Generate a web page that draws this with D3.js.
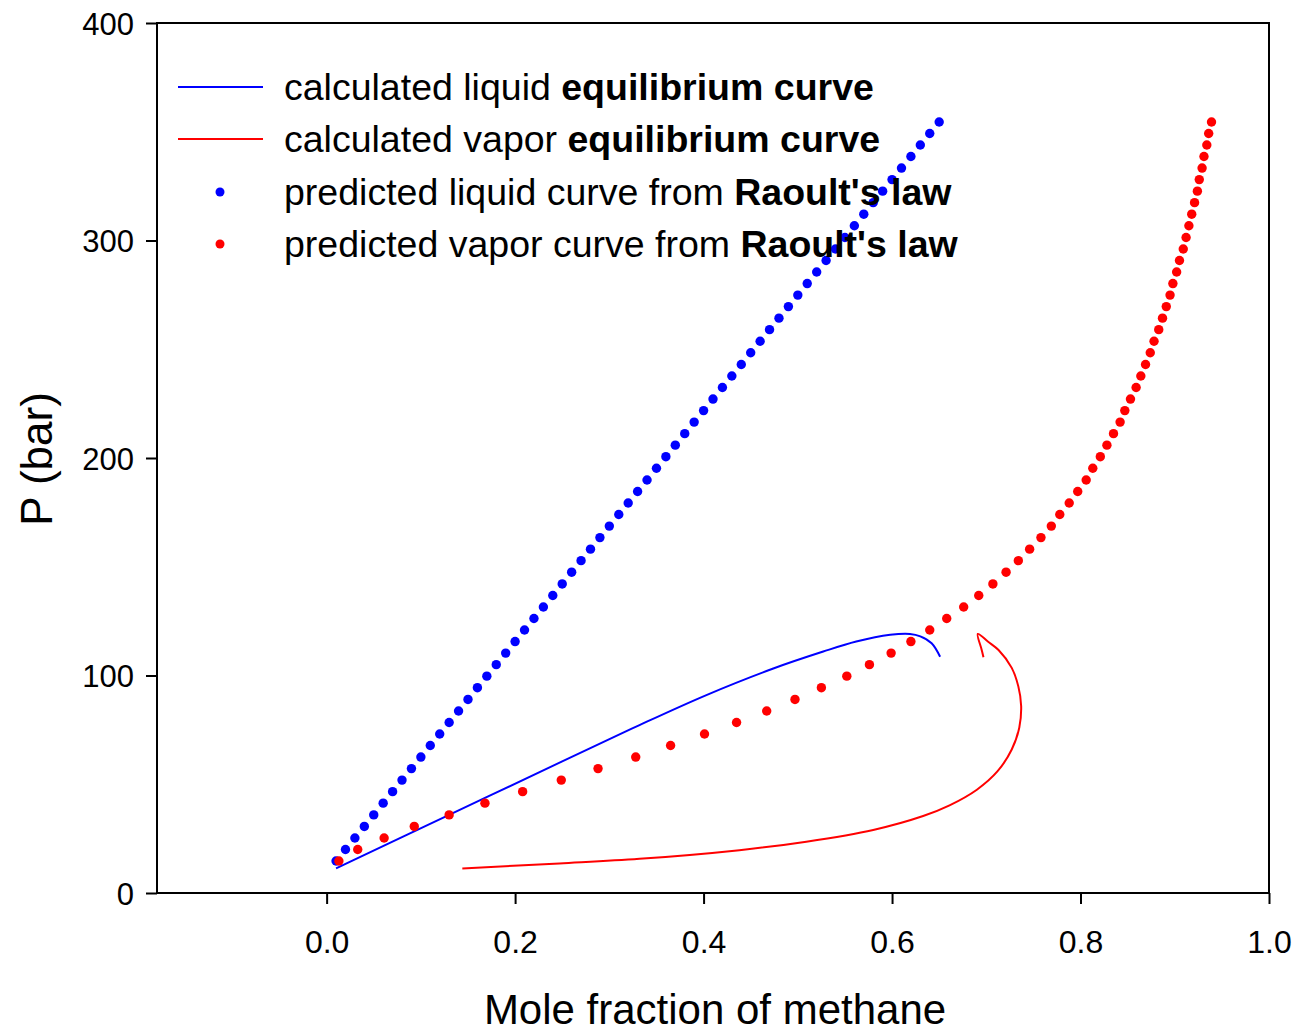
<!DOCTYPE html>
<html>
<head>
<meta charset="utf-8">
<script src="https://cdn.jsdelivr.net/npm/d3@7"></script>
<style>
  body { margin: 0; background: #fff; }
  text { font-family: "Liberation Sans", Arial, sans-serif; }
</style>
</head>
<body>
<script>
// pressures shared by both Raoult series (bar)
const raoultP = [14.7, 20.0, 25.3, 30.6, 35.9, 41.3, 46.6, 51.9, 57.2, 62.5, 67.8, 73.1, 78.4,
  83.7, 89.0, 94.4, 99.7, 105.0, 110.3, 115.6, 120.9, 126.2, 131.5, 136.8, 142.1, 147.5,
  152.8, 158.1, 163.4, 168.7, 174.0, 179.3, 184.6, 189.9, 195.3, 200.6, 205.9, 211.2,
  216.5, 221.8, 227.1, 232.4, 237.7, 243.0, 248.4, 253.7, 259.0, 264.3, 269.6, 274.9,
  280.2, 285.5, 290.8, 296.1, 301.4, 306.8, 312.1, 317.4, 322.7, 328.0, 333.3, 338.6,
  343.9, 349.2, 354.5];

// liquid mole fraction for Raoult dots
const raoultLiquidX = [0.01, 0.02, 0.03, 0.04, 0.05, 0.06, 0.07, 0.08, 0.09, 0.10, 0.11, 0.12,
  0.13, 0.14, 0.15, 0.16, 0.17, 0.18, 0.19, 0.20, 0.21, 0.22, 0.23, 0.24, 0.25, 0.26, 0.27,
  0.28, 0.29, 0.30, 0.31, 0.32, 0.33, 0.34, 0.35, 0.36, 0.37, 0.38, 0.39, 0.40, 0.41, 0.42,
  0.43, 0.44, 0.45, 0.46, 0.47, 0.48, 0.49, 0.50, 0.51, 0.52, 0.53, 0.54, 0.55, 0.56, 0.57,
  0.58, 0.59, 0.60, 0.61, 0.62, 0.63, 0.64, 0.65];

// vapor mole fraction for Raoult dots
const raoultVaporX = [0.013, 0.033, 0.061, 0.093, 0.130, 0.168, 0.208, 0.249, 0.288, 0.328,
  0.365, 0.401, 0.435, 0.467, 0.497, 0.525, 0.552, 0.576, 0.599, 0.620, 0.640, 0.658,
  0.676, 0.692, 0.707, 0.721, 0.734, 0.746, 0.758, 0.769, 0.778, 0.788, 0.797, 0.806,
  0.813, 0.821, 0.828, 0.835, 0.842, 0.847, 0.853, 0.859, 0.864, 0.869, 0.874, 0.878,
  0.883, 0.887, 0.891, 0.895, 0.898, 0.902, 0.905, 0.909, 0.912, 0.915, 0.918, 0.921,
  0.924, 0.926, 0.929, 0.931, 0.934, 0.936, 0.939];

// calculated liquid curve
const liqX = [0.010, 0.130, 0.250, 0.332, 0.403, 0.474, 0.527, 0.562, 0.598, 0.619, 0.630, 0.642, 0.651];
const liqP = [11.3, 35.9, 60.5, 77.2, 91.0, 103.2, 111.0, 115.6, 118.7, 119.1, 118.0, 114.8, 108.6];

// calculated vapor curve
const vapX = [0.144, 0.247, 0.332, 0.438, 0.509, 0.580, 0.633, 0.661, 0.690, 0.712, 0.727, 0.735, 0.737, 0.734, 0.727, 0.713, 0.702, 0.691, 0.695, 0.697];
const vapP = [11.3, 13.6, 15.7, 19.7, 23.6, 29.0, 35.4, 40.3, 47.5, 56.0, 66.0, 76.0, 86.0, 95.0, 103.5, 111.7, 115.5, 119.1, 112.0, 108.4];

const xTicks = [0.0, 0.2, 0.4, 0.6, 0.8, 1.0];
const yTicks = [0, 100, 200, 300, 400];

const legendItems = [
  { kind: "line", color: "#0000ff", normal: "calculated liquid ", bold: "equilibrium curve" },
  { kind: "line", color: "#ff0000", normal: "calculated vapor ", bold: "equilibrium curve" },
  { kind: "dot", color: "#0000ff", normal: "predicted liquid curve from ", bold: "Raoult's law" },
  { kind: "dot", color: "#ff0000", normal: "predicted vapor curve from ", bold: "Raoult's law" }
];

const W = 1299, H = 1034;
const margin = { top: 23, right: 30, bottom: 141, left: 157 };
const width = W - margin.left - margin.right,
      height = H - margin.top - margin.bottom;

const svg = d3.select("body").append("svg")
    .attr("width", W)
    .attr("height", H);

const g = svg.append("g")
    .attr("transform", "translate(" + margin.left + "," + margin.top + ")");

const x = d3.scaleLinear().domain([-0.18, 1.0]).range([0, width]);
const y = d3.scaleLinear().domain([0, 400]).range([height, 0]);

// axes
const xAxis = g.append("g")
    .attr("transform", "translate(0," + height + ")")
    .call(d3.axisBottom(x).tickValues(xTicks).tickFormat(d3.format(".1f")).tickSize(11).tickPadding(26));
const yAxis = g.append("g")
    .call(d3.axisLeft(y).tickValues(yTicks).tickFormat(d3.format("d")).tickSize(11).tickPadding(12));

[xAxis, yAxis].forEach(function (a) {
  a.select(".domain").remove();
  a.selectAll("line").attr("stroke", "#000").attr("stroke-width", 2);
  a.selectAll("text").attr("fill", "#000")
      .style("font-family", "'Liberation Sans', Arial, sans-serif");
});
xAxis.selectAll("text").attr("font-size", 32);
yAxis.selectAll("text").attr("font-size", 31).attr("dy", "0.36em");

// frame
g.append("rect")
    .attr("x", 0).attr("y", 0)
    .attr("width", width).attr("height", height)
    .attr("fill", "none")
    .attr("stroke", "#000")
    .attr("stroke-width", 2);

// axis titles
svg.append("text")
    .attr("x", 715).attr("y", 1024)
    .attr("text-anchor", "middle")
    .attr("font-size", 42)
    .text("Mole fraction of methane");

svg.append("text")
    .attr("transform", "translate(52,459) rotate(-90)")
    .attr("text-anchor", "middle")
    .attr("font-size", 44)
    .text("P (bar)");

// legend
const legend = svg.append("g");
const rowY = [87, 139, 192, 244];
legendItems.forEach(function (d, i) {
  const cy = rowY[i];
  if (d.kind === "line") {
    legend.append("line")
        .attr("x1", 178).attr("x2", 263)
        .attr("y1", cy).attr("y2", cy)
        .attr("stroke", d.color).attr("stroke-width", 2);
  } else {
    legend.append("circle")
        .attr("cx", 220).attr("cy", cy).attr("r", 4.5)
        .attr("fill", d.color);
  }
  const t = legend.append("text")
      .attr("x", 284).attr("y", cy + 13)
      .attr("font-size", 37.5)
      .attr("fill", "#000");
  t.append("tspan").text(d.normal);
  t.append("tspan").attr("font-weight", "bold").text(d.bold);
});

// calculated curves
const line = d3.line()
    .x(function (d) { return x(d[0]); })
    .y(function (d) { return y(d[1]); })
    .curve(d3.curveCatmullRom.alpha(0.5));

const liqData = liqX.map(function (v, i) { return [v, liqP[i]]; });
const vapData = vapX.map(function (v, i) { return [v, vapP[i]]; });

g.append("path")
    .datum(liqData)
    .attr("d", line)
    .attr("fill", "none")
    .attr("stroke", "#0000ff")
    .attr("stroke-width", 2);

g.append("path")
    .datum(vapData)
    .attr("d", line)
    .attr("fill", "none")
    .attr("stroke", "#ff0000")
    .attr("stroke-width", 2);

// Raoult's law dots
g.selectAll(".dotL")
    .data(raoultP)
    .enter().append("circle")
    .attr("class", "dotL")
    .attr("r", 4.7)
    .attr("cx", function (d, i) { return x(raoultLiquidX[i]); })
    .attr("cy", function (d) { return y(d); })
    .attr("fill", "#0000ff");

g.selectAll(".dotV")
    .data(raoultP)
    .enter().append("circle")
    .attr("class", "dotV")
    .attr("r", 4.7)
    .attr("cx", function (d, i) { return x(raoultVaporX[i]); })
    .attr("cy", function (d) { return y(d); })
    .attr("fill", "#ff0000");
</script>
</body>
</html>
